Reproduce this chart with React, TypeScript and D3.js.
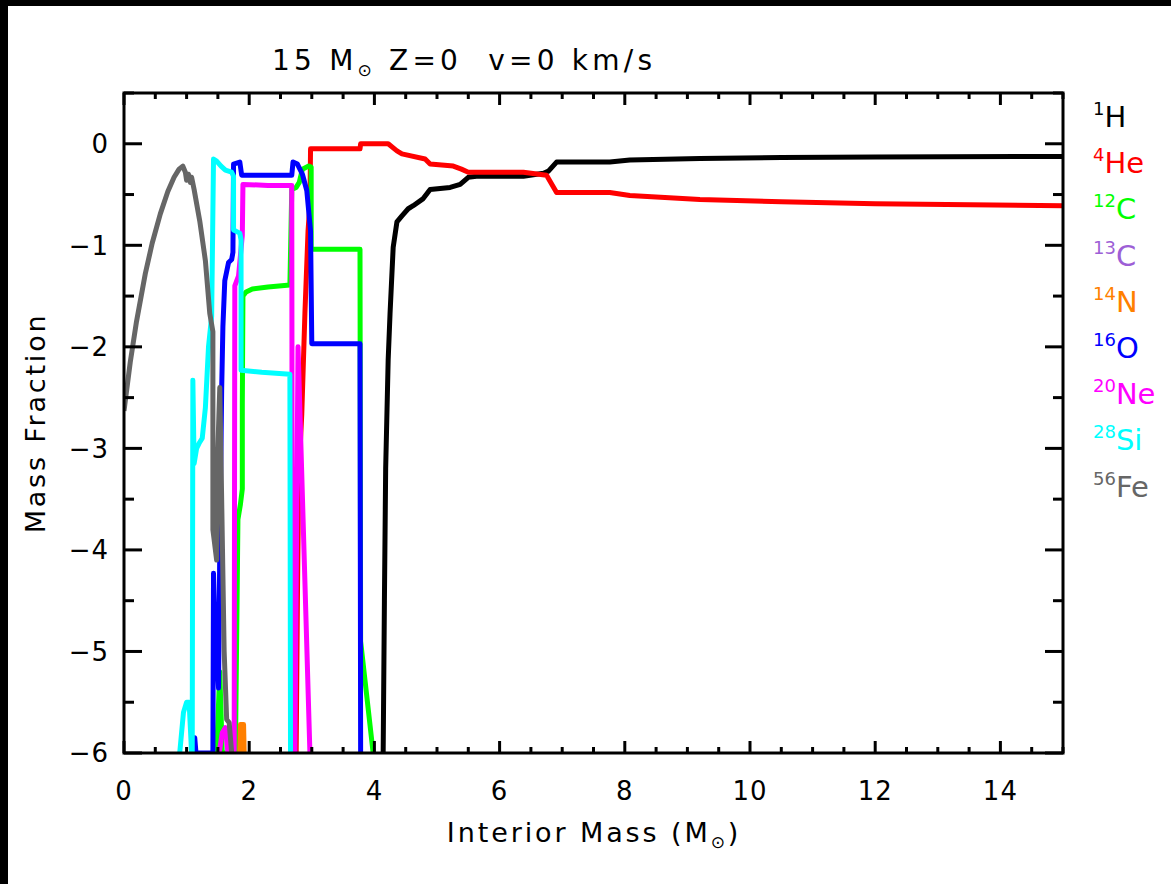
import React from "react";
import * as d3 from "d3";

const W = 1171;
const H = 884;
const frame = { left: 124, right: 1063, top: 93, bottom: 753 };

const xTicks = [0, 2, 4, 6, 8, 10, 12, 14];
const yTicks = [0, -1, -2, -3, -4, -5, -6];

// [interior mass, log mass fraction]
const hydrogen: [number, number][] = [
  [4.14, -6], [4.16, -4.5], [4.18, -3.2], [4.22, -2.13], [4.25, -1.67], [4.3, -1.02],
  [4.36, -0.77], [4.44, -0.71], [4.54, -0.64], [4.62, -0.61], [4.78, -0.54], [4.89, -0.45],
  [5.21, -0.43], [5.37, -0.4], [5.5, -0.33], [5.63, -0.32], [6.38, -0.32], [6.7, -0.29],
  [6.78, -0.27], [6.91, -0.18], [7.76, -0.18], [8.08, -0.16], [9.2, -0.145], [10.5, -0.135],
  [12, -0.13], [15, -0.125],
];

const helium: [number, number][] = [
  [2.75, -6], [2.77, -4.5], [2.79, -3.3], [2.84, -2.66], [2.89, -1.67], [2.94, -0.86],
  [2.97, -0.59], [2.98, -0.05], [3.77, -0.05], [3.78, 0.0], [4.22, 0.0], [4.36, -0.07],
  [4.44, -0.1], [4.81, -0.15], [4.89, -0.2], [5.26, -0.22], [5.39, -0.25], [5.5, -0.28],
  [6.38, -0.28], [6.75, -0.31], [6.91, -0.48], [7.76, -0.48], [8.08, -0.51], [9.2, -0.55],
  [10.5, -0.57], [12, -0.59], [15, -0.61],
];

const carbon12: [number, number][] = [
  [1.48, -6], [1.53, -5.2], [1.57, -6], [1.78, -6], [1.82, -3.7], [1.86, -3.55],
  [1.89, -3.4], [1.89, -2.56], [1.9, -1.5], [1.95, -1.46], [2.05, -1.43], [2.3, -1.41],
  [2.65, -1.39], [2.68, -0.45], [2.75, -0.43], [2.8, -0.38], [2.85, -0.25], [2.95, -0.22],
  [2.99, -0.23], [2.99, -1.04], [3.77, -1.04], [3.78, -4.9], [3.98, -6],
];

const carbon13: [number, number][] = [];

const nitrogen14: [number, number][] = [
  [1.85, -6], [1.86, -5.72], [1.91, -5.72], [1.92, -6],
];

const oxygen16: [number, number][] = [
  [1.1, -6], [1.13, -5.85], [1.15, -6], [1.42, -6], [1.43, -4.23], [1.45, -4.7],
  [1.48, -5.0], [1.51, -5.36], [1.53, -4.0], [1.56, -2.43], [1.58, -1.8], [1.61, -1.35],
  [1.67, -1.17], [1.72, -1.14], [1.74, -1.07], [1.75, -0.2], [1.85, -0.18], [1.88, -0.31],
  [2.68, -0.31], [2.7, -0.18], [2.77, -0.2], [2.85, -0.3], [2.92, -0.46], [2.98, -0.86],
  [3.0, -1.97], [3.77, -1.97], [3.78, -6],
];

const neon20: [number, number][] = [
  [1.52, -6], [1.57, -5.8], [1.62, -5.75], [1.66, -6], [1.76, -6], [1.77, -1.4],
  [1.8, -1.35], [1.83, -1.3], [1.86, -1.1], [1.89, -0.9], [1.9, -0.4], [2.3, -0.41],
  [2.68, -0.41], [2.69, -6], [2.73, -6], [2.78, -2.0], [2.97, -6],
];

const silicon28: [number, number][] = [
  [0.89, -6], [0.95, -5.6], [1.0, -5.5], [1.04, -5.5], [1.08, -6], [1.09, -6],
  [1.1, -2.33], [1.12, -3.15], [1.16, -3.0], [1.2, -2.95], [1.25, -2.9], [1.3, -2.6],
  [1.35, -2.0], [1.4, -1.7], [1.43, -0.15], [1.48, -0.17], [1.55, -0.22], [1.62, -0.26],
  [1.72, -0.28], [1.75, -0.32], [1.75, -0.85], [1.85, -0.88], [1.87, -0.95], [1.87, -2.23],
  [2.2, -2.25], [2.65, -2.27], [2.66, -6],
];

const iron56: [number, number][] = [
  [0, -2.63], [0.1, -2.15], [0.2, -1.75], [0.34, -1.28], [0.45, -0.98], [0.58, -0.69],
  [0.7, -0.47], [0.8, -0.33], [0.88, -0.25], [0.94, -0.22], [0.98, -0.28], [1.0, -0.36],
  [1.03, -0.3], [1.06, -0.38], [1.08, -0.33], [1.12, -0.45], [1.21, -0.76], [1.3, -1.15],
  [1.37, -1.67], [1.42, -1.85], [1.42, -3.8], [1.48, -4.1], [1.5, -3.0], [1.53, -2.4],
  [1.56, -3.5], [1.6, -5.0], [1.64, -5.67], [1.68, -5.7], [1.72, -6],
];

const species = [
  { mass: "1", name: "H", color: "#000000", data: hydrogen },
  { mass: "4", name: "He", color: "#ff0000", data: helium },
  { mass: "12", name: "C", color: "#00ff00", data: carbon12 },
  { mass: "13", name: "C", color: "#9d5fd6", data: carbon13 },
  { mass: "14", name: "N", color: "#ff7f00", data: nitrogen14 },
  { mass: "16", name: "O", color: "#0000ff", data: oxygen16 },
  { mass: "20", name: "Ne", color: "#ff00ff", data: neon20 },
  { mass: "28", name: "Si", color: "#00ffff", data: silicon28 },
  { mass: "56", name: "Fe", color: "#666666", data: iron56 },
];

const font = "'DejaVu Sans', sans-serif";

const App = () => {
  const x = d3.scaleLinear().domain([0, 15]).range([frame.left, frame.right]);
  const y = d3.scaleLinear().domain([-6, 0.5]).range([frame.bottom, frame.top]);
  const line = d3
    .line<[number, number]>()
    .x(d => x(d[0]))
    .y(d => y(d[1]));

  const xMinor = d3.range(0, 15.01, 0.5).filter(v => v % 2 !== 0);
  const yMinor = d3.range(-5.5, 0.51, 0.5).filter(v => v % 1 !== 0);

  return (
    <svg
      width={W}
      height={H}
      style={{ position: "absolute", left: 0, top: 0, background: "#fff" }}
      fontFamily={font}
    >
      <rect x={0} y={0} width={W} height={H} fill="#fff" />
      <rect x={0} y={0} width={8} height={H} fill="#000" />
      <rect x={0} y={0} width={W} height={6} fill="#000" />

      <defs>
        <clipPath id="plot">
          <rect x={frame.left} y={frame.top} width={frame.right - frame.left} height={frame.bottom - frame.top} />
        </clipPath>
      </defs>

      <g clipPath="url(#plot)">
        {species.map(s =>
          s.data.length ? (
            <path
              key={s.mass + s.name}
              d={line(s.data) || ""}
              fill="none"
              stroke={s.color}
              strokeWidth={5}
              strokeLinejoin="round"
            />
          ) : null
        )}
      </g>

      {/* frame and ticks */}
      <g stroke="#000" strokeWidth={3}>
        <rect
          x={frame.left}
          y={frame.top}
          width={frame.right - frame.left}
          height={frame.bottom - frame.top}
          fill="none"
        />
        {xTicks.map(v => (
          <g key={"xt" + v}>
            <line x1={x(v)} x2={x(v)} y1={frame.bottom} y2={frame.bottom - 12} />
            <line x1={x(v)} x2={x(v)} y1={frame.top} y2={frame.top + 12} />
          </g>
        ))}
        {xMinor.map(v => (
          <g key={"xm" + v}>
            <line x1={x(v)} x2={x(v)} y1={frame.bottom} y2={frame.bottom - 6} />
            <line x1={x(v)} x2={x(v)} y1={frame.top} y2={frame.top + 6} />
          </g>
        ))}
        {yTicks.map(v => (
          <g key={"yt" + v}>
            <line x1={frame.left} x2={frame.left + 18} y1={y(v)} y2={y(v)} />
            <line x1={frame.right} x2={frame.right - 18} y1={y(v)} y2={y(v)} />
          </g>
        ))}
        {yMinor.map(v => (
          <g key={"ym" + v}>
            <line x1={frame.left} x2={frame.left + 10} y1={y(v)} y2={y(v)} />
            <line x1={frame.right} x2={frame.right - 10} y1={y(v)} y2={y(v)} />
          </g>
        ))}
      </g>

      {/* tick labels */}
      <g fontSize={26} fill="#000">
        {xTicks.map(v => (
          <text key={"xl" + v} x={x(v)} y={800} textAnchor="middle" letterSpacing={1}>
            {v}
          </text>
        ))}
        {yTicks.map(v => (
          <text key={"yl" + v} x={109} y={y(v)} dy="0.36em" textAnchor="end" letterSpacing={1}>
            {v === 0 ? "0" : "\u2212" + Math.abs(v)}
          </text>
        ))}
      </g>

      {/* titles */}
      <text x={272} y={70} fontSize={28} letterSpacing={4.2}>
        15 M<tspan fontSize={17} dy={6}>{"\u2299"}</tspan>
        <tspan dy={-6}> Z=0{"\u00a0\u00a0"}v=0 km/s</tspan>
      </text>
      <text x={594} y={842} fontSize={27} textAnchor="middle" letterSpacing={2.9}>
        Interior Mass (M<tspan fontSize={17} dy={6}>{"\u2299"}</tspan>
        <tspan dy={-6}>)</tspan>
      </text>
      <text
        transform="translate(45,423) rotate(-90)"
        fontSize={27}
        textAnchor="middle"
        letterSpacing={2.8}
      >
        Mass Fraction
      </text>

      {/* legend */}
      {species.map((s, i) => (
        <text key={"lg" + i} x={1093} y={127 + i * 46.2} fill={s.color} fontSize={29}>
          <tspan fontSize={18} dy={-12}>{s.mass}</tspan>
          <tspan dy={12}>{s.name}</tspan>
        </text>
      ))}
    </svg>
  );
};

export default App;
